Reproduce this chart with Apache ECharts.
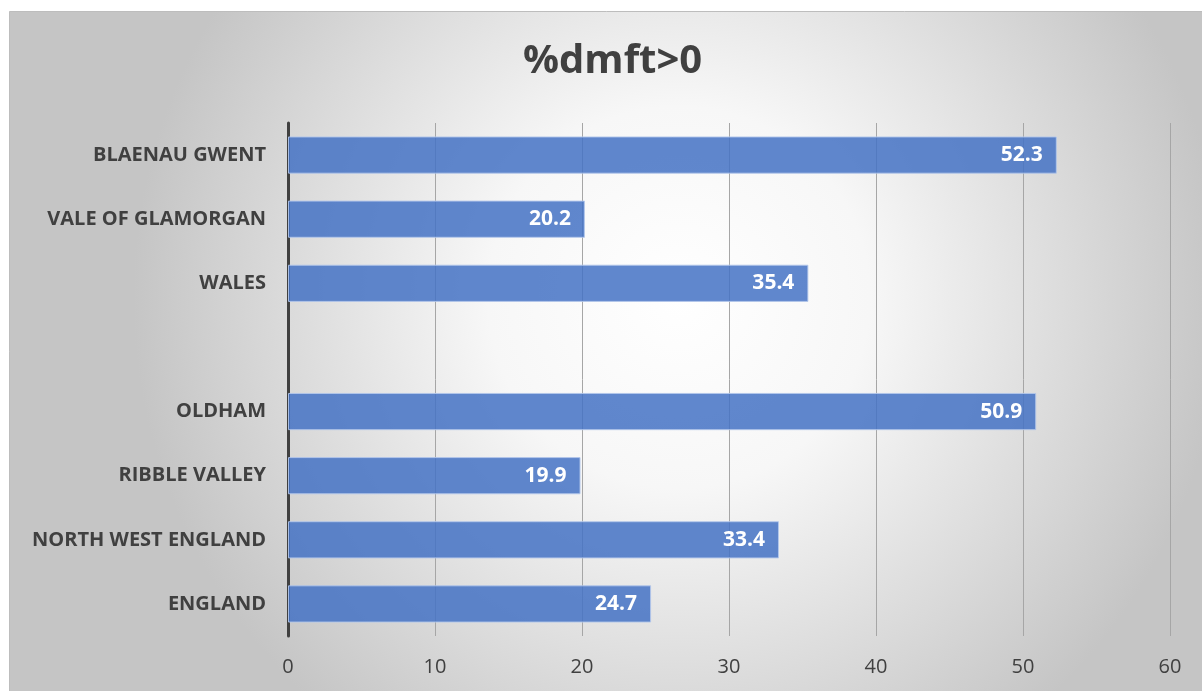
<!DOCTYPE html>
<html><head><meta charset="utf-8">
<script src="https://cdn.jsdelivr.net/npm/echarts@6/dist/echarts.min.js"></script>
<style>html,body{margin:0;padding:0;background:#fff}#c{width:1202px;height:691px}</style>
</head><body><div id="c"></div>
<script>
const categories = ["BLAENAU GWENT","VALE OF GLAMORGAN","WALES","","OLDHAM","RIBBLE VALLEY","NORTH WEST ENGLAND","ENGLAND"];
const values = [52.3, 20.2, 35.4, null, 50.9, 19.9, 33.4, 24.7];
const xTicks = [0,10,20,30,40,50,60];
const titleText = "%dmft>0";

const chart = echarts.init(document.getElementById('c'), null, {renderer:'canvas'});
const font = '"Open Sans", "Liberation Sans", sans-serif';
chart.setOption({
  animation:false,
  backgroundColor:'#ffffff',
  graphic:[{
    type:'rect', z:-10, silent:true,
    shape:{x:9.5,y:11.5,width:1195,height:681},
    style:{
      fill:{type:'radial',x:0.56,y:0.42,r:0.8,colorStops:[{offset:0,color:'#ffffff'},{offset:0.35,color:'#f7f7f7'},{offset:1,color:'#c5c5c5'}]},
      stroke:'#bdbdbd',lineWidth:1
    }
  }],
  title:{text:titleText,left:518,top:37,textStyle:{fontFamily:font,fontSize:40,fontWeight:'bold',color:'#404040'}},
  grid:{left:288,right:32,top:123,bottom:55,containLabel:false},
  xAxis:{type:'value',min:xTicks[0],max:xTicks[xTicks.length-1],interval:10,
    axisLine:{show:false},axisTick:{show:false},
    axisLabel:{fontFamily:font,fontSize:20,color:'#404040',margin:21},
    splitLine:{show:true,lineStyle:{color:'#a6a6a6',width:1}}},
  yAxis:{type:'category',data:categories,inverse:true,
    axisLine:{show:true,onZero:false,lineStyle:{color:'#404040',width:3}},
    axisTick:{show:false},
    axisLabel:{fontFamily:font,fontSize:20,fontWeight:'bold',color:'#404040',margin:22}},
  series:[{type:'bar',data:values,barCategoryGap:'42%',
    itemStyle:{color:'rgba(68,114,196,0.85)',borderColor:'rgba(180,200,235,0.9)',borderWidth:1},
    label:{show:true,position:'insideRight',distance:14,fontFamily:font,fontSize:21,fontWeight:'bold',color:'#ffffff',
      formatter:p=>p.value==null?'':p.value.toFixed(1)}}]
});
</script></body></html>
